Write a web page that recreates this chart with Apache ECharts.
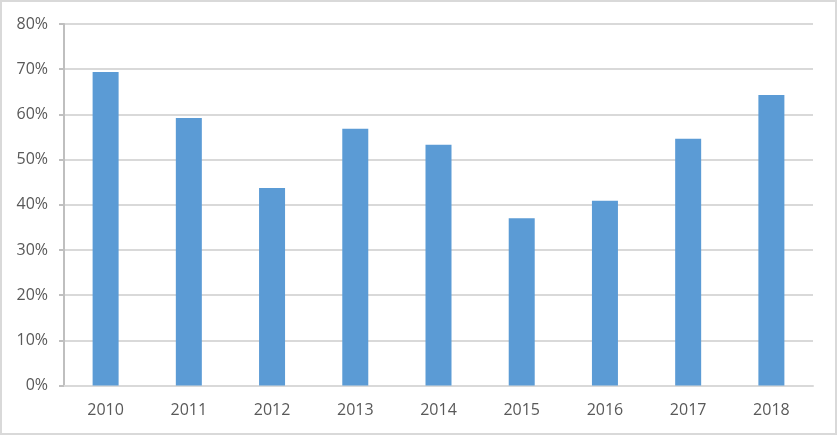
<!DOCTYPE html>
<html>
<head>
<meta charset="utf-8">
<script src="https://cdn.jsdelivr.net/npm/echarts@6/dist/echarts.min.js"></script>
<style>
html,body{margin:0;padding:0;background:#fff;}
#c{width:837px;height:435px;}
</style>
</head>
<body>
<div id="c"></div>
<script>
var years = ['2010','2011','2012','2013','2014','2015','2016','2017','2018'];
var shares = [69.4, 59.2, 43.7, 56.8, 53.3, 37.0, 40.9, 54.6, 64.3];

var chart = echarts.init(document.getElementById('c'), null, {renderer:'canvas'});
chart.setOption({
  animation: false,
  backgroundColor: '#ffffff',
  graphic: [{
    type: 'rect', silent: true,
    shape: {x: 1, y: 1, width: 835, height: 433},
    style: {fill: 'none', stroke: '#d9d9d9', lineWidth: 2}
  }],
  grid: {left: 64, right: 24, top: 24, bottom: 49.5, containLabel: false},
  xAxis: {
    type: 'category',
    data: years,
    axisLine: {show: true, lineStyle: {color: '#d9d9d9', width: 2}},
    axisTick: {show: false},
    axisLabel: {color: '#595959', fontSize: 16, fontFamily: 'Open Sans, Liberation Sans, sans-serif', margin: 17}
  },
  yAxis: {
    type: 'value',
    min: 0, max: 80, interval: 10,
    axisLine: {show: true, lineStyle: {color: '#bfbfbf', width: 2}},
    axisTick: {show: true, length: 5, lineStyle: {color: '#bfbfbf', width: 2}},
    splitLine: {show: true, lineStyle: {color: '#d9d9d9', width: 2}},
    axisLabel: {color: '#595959', fontSize: 16, fontFamily: 'Open Sans, Liberation Sans, sans-serif', margin: 16,
      formatter: function(v){ return v + '%'; }}
  },
  series: [{
    type: 'bar',
    data: shares,
    barWidth: 26,
    itemStyle: {color: '#5b9bd5'}
  }]
});
</script>
</body>
</html>
